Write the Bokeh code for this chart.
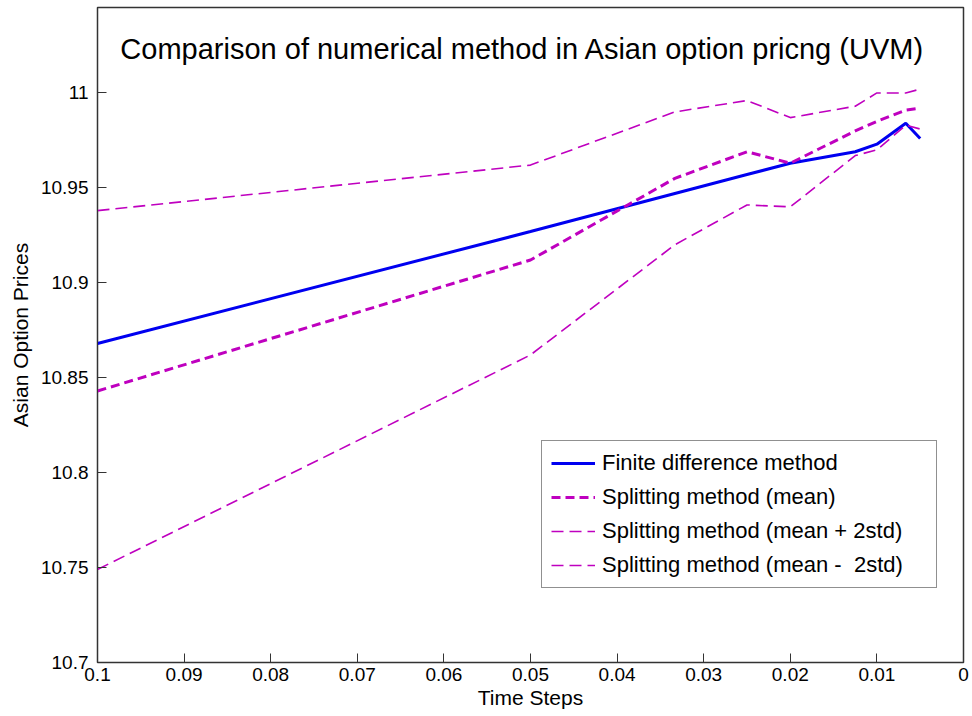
from bokeh.plotting import figure
from bokeh.models import Range1d, FixedTicker, Label, Legend, LegendItem
from bokeh.embed import file_html
from bokeh.resources import INLINE

# ---- data ----
time_steps = [0.1, 0.05, 1/30, 0.025, 0.02, 0.0125, 0.01, 1/150, 0.005]
fd_prices = [10.868, 10.927, 10.947, 10.957, 10.963, 10.969, 10.973, 10.984, 10.976]
split_mean = [10.843, 10.912, 10.955, 10.969, 10.963, 10.980, 10.985, 10.991, 10.992]
split_plus = [10.938, 10.962, 10.990, 10.996, 10.987, 10.993, 11.000, 11.000, 11.002]
split_minus = [10.749, 10.862, 10.920, 10.941, 10.940, 10.967, 10.970, 10.983, 10.981]

x_ticks = [0.1, 0.09, 0.08, 0.07, 0.06, 0.05, 0.04, 0.03, 0.02, 0.01, 0.0]
x_tick_labels = ["0.1", "0.09", "0.08", "0.07", "0.06", "0.05", "0.04", "0.03", "0.02", "0.01", "0"]
y_ticks = [10.7, 10.75, 10.8, 10.85, 10.9, 10.95, 11.0]
y_tick_labels = ["10.7", "10.75", "10.8", "10.85", "10.9", "10.95", "11"]

title_text = "Comparison of numerical method in Asian option pricng (UVM)"
FONT = "Liberation Sans"
BLUE = "#0000f0"
MAG = "#bf00bf"

p = figure(width=972, height=714, output_backend="svg", toolbar_location=None,
           x_range=Range1d(0.1, 0.0), y_range=Range1d(10.7, 11.045),
           min_border_left=97, min_border_right=9, min_border_top=7, min_border_bottom=52)
p.xgrid.visible = False
p.ygrid.visible = False
p.outline_line_color = "#333333"
p.outline_line_width = 1.5
p.background_fill_color = "white"
p.border_fill_color = "white"

for ax in (p.xaxis[0], p.yaxis[0]):
    ax.major_tick_in = 9
    ax.major_tick_out = 0
    ax.minor_tick_line_color = None
    ax.major_label_text_font = FONT
    ax.major_label_text_font_size = "19px"
    ax.major_label_text_color = "black"
    ax.axis_line_color = "#333333"
    ax.major_tick_line_color = "#333333"
    ax.axis_label_text_font = FONT
    ax.axis_label_text_font_size = "21px"
    ax.axis_label_text_font_style = "normal"
    ax.axis_label_text_color = "black"

p.xaxis.ticker = FixedTicker(ticks=x_ticks)
p.xaxis.major_label_overrides = {t: l for t, l in zip(x_ticks, x_tick_labels)}
p.yaxis.ticker = FixedTicker(ticks=y_ticks)
p.yaxis.major_label_overrides = {t: l for t, l in zip(y_ticks, y_tick_labels)}
p.xaxis.axis_label = "Time Steps"
p.yaxis.axis_label = "Asian Option Prices"
p.xaxis.major_label_standoff = 5
p.xaxis.axis_label_standoff = 2
p.yaxis.major_label_standoff = 9
p.yaxis.axis_label_standoff = 6

r_fd = p.line(time_steps, fd_prices, line_color=BLUE, line_width=3)
r_mean = p.line(time_steps, split_mean, line_color=MAG, line_width=3, line_dash="9 5")
r_plus = p.line(time_steps, split_plus, line_color=MAG, line_width=1.6, line_dash="12 6")
r_minus = p.line(time_steps, split_minus, line_color=MAG, line_width=1.6, line_dash="12 6")

legend = Legend(items=[
    LegendItem(label="Finite difference method", renderers=[r_fd]),
    LegendItem(label="Splitting method (mean)", renderers=[r_mean]),
    LegendItem(label="Splitting method (mean + 2std)", renderers=[r_plus]),
    LegendItem(label="Splitting method (mean -  2std)", renderers=[r_minus]),
], location="top_left")
legend.location = (444, 74)
legend.label_text_font = FONT
legend.label_text_font_size = "22px"
legend.label_text_color = "black"
legend.label_height = 26
legend.label_width = 325
legend.glyph_width = 44
legend.glyph_height = 26
legend.spacing = 8
legend.padding = 9
legend.margin = 0
legend.label_standoff = 7
legend.border_line_color = "#222222"
legend.border_line_width = 1
legend.background_fill_alpha = 1.0
p.add_layout(legend, "center")

title = Label(x=425, y=614, x_units="screen", y_units="screen", text=title_text,
              text_font=FONT, text_font_size="29px", text_align="center",
              text_baseline="middle", text_color="black")
p.add_layout(title)

open("out.html", "w").write(file_html(p, INLINE))
